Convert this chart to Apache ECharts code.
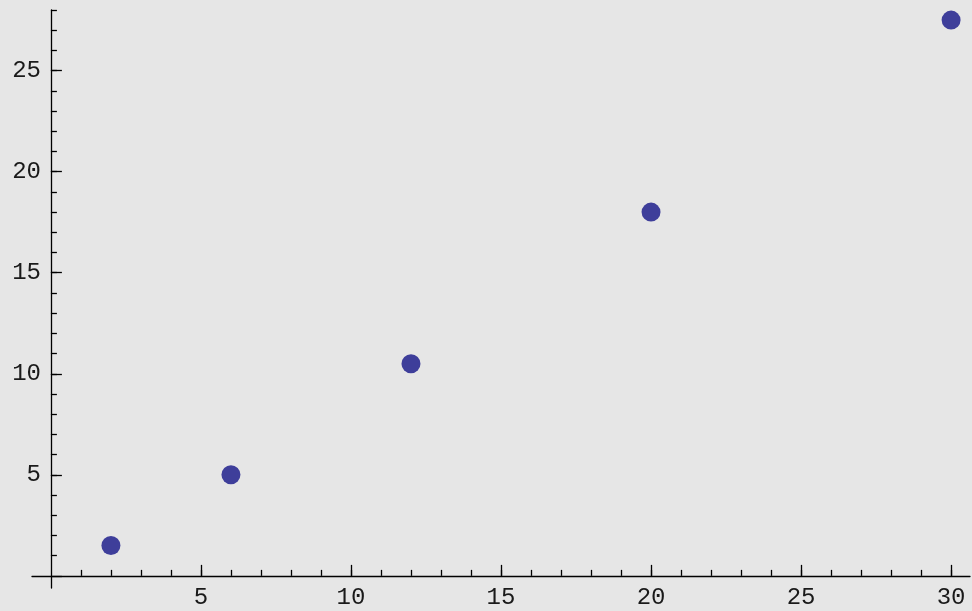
<!DOCTYPE html>
<html>
<head>
<meta charset="utf-8">
<style>
  html, body { margin: 0; padding: 0; background: #e6e6e6; }
  #chart { width: 972px; height: 611px; }
</style>
<script src="https://cdn.jsdelivr.net/npm/echarts@6/dist/echarts.min.js"></script>
</head>
<body>
<div id="chart"></div>
<script>
// Observed points
const xValues = [2, 6, 12, 20, 30];
const yValues = [1.5, 5, 10.5, 18, 27.5];

// Tick positions
const xMajorTicks = [5, 10, 15, 20, 25, 30];
const xMinorTicks = Array.from({ length: 30 }, (_, i) => i + 1);
const yMajorTicks = [0, 5, 10, 15, 20, 25];
const yMinorTicks = Array.from({ length: 28 }, (_, i) => i + 1);
const xLabels = [5, 10, 15, 20, 25, 30];
const yLabels = [5, 10, 15, 20, 25];

const xRange = [-0.63, 30.63];
const yRange = [-0.6, 28];

const ink = '#000000';
const labelFont = { fontFamily: 'Liberation Mono', fontSize: 24, color: '#1a1a1a' };

const points = xValues.map((x, i) => [x, yValues[i]]);

const chart = echarts.init(document.getElementById('chart'), null, { renderer: 'canvas' });

chart.setOption({
  backgroundColor: '#e6e6e6',
  animation: false,
  grid: { left: 32, right: 2, top: 10, bottom: 23, containLabel: false, outerBoundsMode: 'none' },
  xAxis: [
    {
      type: 'value', min: xRange[0], max: xRange[1], position: 'bottom',
      axisLine: { show: true, onZero: true, onZeroAxisIndex: 0, lineStyle: { color: ink, width: 1.3 } },
      axisTick: { show: true, inside: true, length: 11, customValues: xMajorTicks, lineStyle: { color: ink, width: 1.3 } },
      axisLabel: { show: true, customValues: xLabels, margin: -2, hideOverlap: false, ...labelFont },
      splitLine: { show: false }
    },
    {
      type: 'value', min: xRange[0], max: xRange[1], position: 'top',
      axisLine: { show: false, onZero: true, onZeroAxisIndex: 0 },
      axisTick: { show: true, inside: false, length: 6, customValues: xMinorTicks, lineStyle: { color: ink, width: 1.3 } },
      axisLabel: { show: false },
      splitLine: { show: false }
    }
  ],
  yAxis: [
    {
      type: 'value', min: yRange[0], max: yRange[1], position: 'left',
      axisLine: { show: true, onZero: true, onZeroAxisIndex: 0, lineStyle: { color: ink, width: 1.3 } },
      axisTick: { show: true, inside: true, length: 11, customValues: yMajorTicks, lineStyle: { color: ink, width: 1.3 } },
      axisLabel: { show: true, customValues: yLabels, margin: -9, hideOverlap: false, ...labelFont },
      splitLine: { show: false }
    },
    {
      type: 'value', min: yRange[0], max: yRange[1], position: 'right',
      axisLine: { show: false, onZero: true, onZeroAxisIndex: 0 },
      axisTick: { show: true, inside: false, length: 6, customValues: yMinorTicks, lineStyle: { color: ink, width: 1.3 } },
      axisLabel: { show: false },
      splitLine: { show: false }
    }
  ],
  series: [
    {
      type: 'scatter',
      data: points,
      symbol: 'circle',
      symbolSize: 19,
      itemStyle: { color: '#3e3e9a', opacity: 1 }
    }
  ]
});
</script>
</body>
</html>
